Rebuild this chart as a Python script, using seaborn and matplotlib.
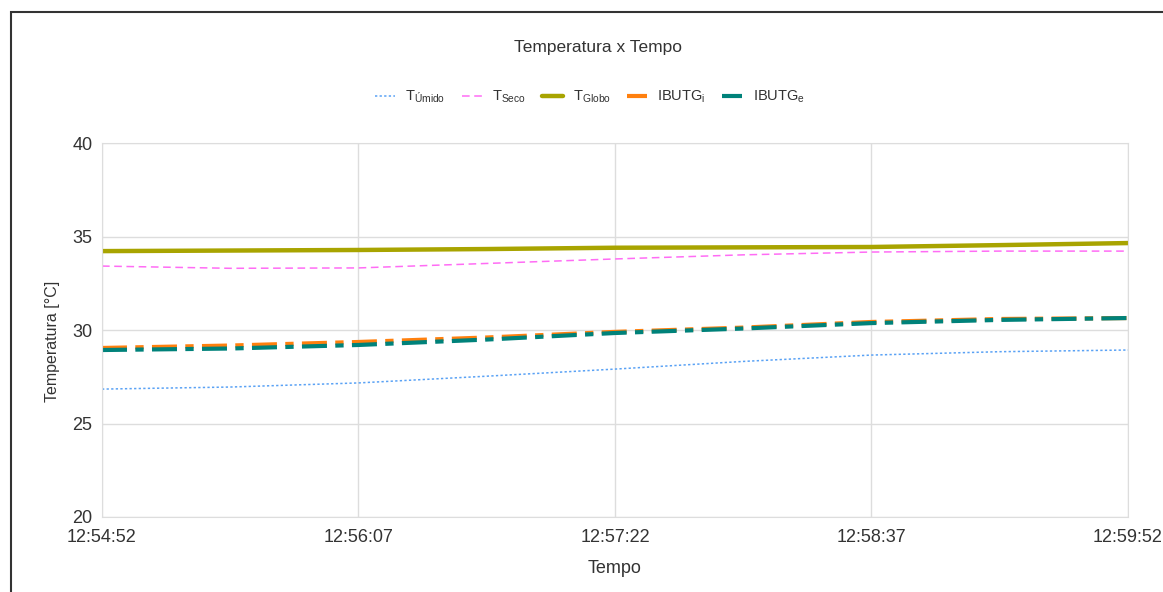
import numpy as np
import pandas as pd
import matplotlib
matplotlib.use('Agg')
import matplotlib.pyplot as plt
import seaborn as sns
from matplotlib.patches import Rectangle

# Time in seconds from 12:54:52 (readings every 37.5 s)
seconds = [0, 37.5, 75, 112.5, 150, 187.5, 225, 262.5, 300]
tick_secs = [0, 75, 150, 225, 300]
tick_labels = ['12:54:52', '12:56:07', '12:57:22', '12:58:37', '12:59:52']

t_umido = [26.84, 26.95, 27.17, 27.53, 27.91, 28.32, 28.66, 28.84, 28.93]
t_seco = [33.42, 33.30, 33.32, 33.56, 33.80, 34.02, 34.17, 34.22, 34.22]
t_globo = [34.22, 34.25, 34.28, 34.33, 34.40, 34.42, 34.44, 34.54, 34.65]
ibutg_i = [29.04, 29.17, 29.36, 29.60, 29.90, 30.13, 30.43, 30.59, 30.64]
ibutg_e = [28.93, 29.01, 29.20, 29.49, 29.84, 30.08, 30.37, 30.54, 30.64]

df = pd.DataFrame({'Tempo': seconds, 'umido': t_umido, 'seco': t_seco,
                   'globo': t_globo, 'ibutg_i': ibutg_i, 'ibutg_e': ibutg_e})

sns.set_style('white')
plt.rcParams['font.family'] = ['Liberation Sans', 'DejaVu Sans']
plt.rcParams['mathtext.fontset'] = 'custom'
plt.rcParams['mathtext.rm'] = 'Liberation Sans'

fig = plt.figure(figsize=(11.63, 5.92), dpi=100)
ax = fig.add_axes([0.0877, 0.1267, 0.8822, 0.6317])

series = [
    ('umido', 'T$_{\\mathrm{Úmido}}$', '#5aa2f5', (0, (1.5, 1.5)), 1.1),
    ('seco', 'T$_{\\mathrm{Seco}}$', '#ff6cf5', (0, (5, 3)), 1.1),
    ('globo', 'T$_{\\mathrm{Globo}}$', '#a8a400', '-', 3.2),
    ('ibutg_i', 'IBUTG$_{\\mathrm{i}}$', '#ff800e', (0, (6, 2, 2, 2)), 3.0),
    ('ibutg_e', 'IBUTG$_{\\mathrm{e}}$', '#00827a', (0, (6, 2, 2, 2)), 3.0),
]
for col, label, color, ls, lw in series:
    sns.lineplot(data=df, x='Tempo', y=col, ax=ax, color=color, linestyle=ls,
                 linewidth=lw, label=label)

ax.set_xlim(0, 300)
ax.set_ylim(20, 40)
ax.set_xticks(tick_secs)
ax.set_xticklabels(tick_labels)
ax.set_yticks([20, 25, 30, 35, 40])
ax.grid(True, color='#dddddd', linewidth=1)
for s in ax.spines.values():
    s.set_color('#dddddd')
ax.tick_params(axis='both', length=5, width=1, color='#cccccc',
               labelsize=13, labelcolor='#333333', direction='out', pad=2)
ax.tick_params(axis='x', pad=4)
ax.set_xlabel('Tempo', fontsize=13, color='#333333', labelpad=10)
ax.set_ylabel('Temperatura [°C]', fontsize=11.5, color='#333333')
ax.yaxis.set_label_coords(-0.041, 0.47)

fig.text(0.514, 0.92, 'Temperatura x Tempo', ha='center', va='center',
         fontsize=12.5, color='#333333')
ax.legend(loc='center', bbox_to_anchor=(0.507, 0.836), bbox_transform=fig.transFigure,
          ncol=5, frameon=False, fontsize=10.5, handlelength=1.4, handletextpad=0.7,
          columnspacing=1.1, labelcolor='#333333')

fig.patches.append(Rectangle((11 / 1163, -0.1), 1.2, 1 - 12 / 592 + 0.1,
                             transform=fig.transFigure, fill=False,
                             edgecolor='#333333', linewidth=1.5))

plt.savefig('out.png', dpi=100)
